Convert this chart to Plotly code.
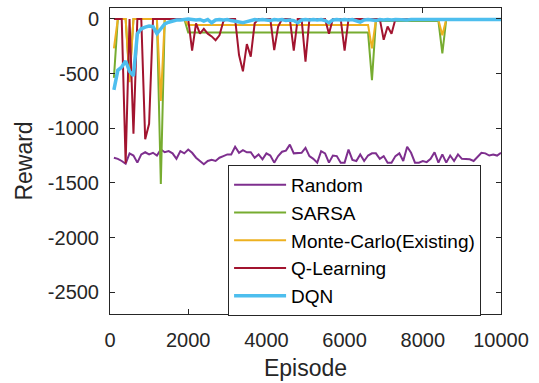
import plotly.graph_objects as go

episodes = list(range(100, 10001, 100))

random_r = [
    -1270, -1280, -1300, -1325, -1230, -1250, -1315, -1240, -1220, -1240,
    -1225, -1250, -1195, -1220, -1210, -1230, -1280, -1210, -1230, -1195,
    -1225, -1270, -1300, -1330, -1300, -1290, -1300, -1270, -1255, -1240,
    -1240, -1170, -1225, -1200, -1220, -1220, -1270, -1240, -1285, -1230,
    -1250, -1315, -1255, -1215, -1205, -1150, -1230, -1225, -1225, -1180,
    -1255, -1280, -1315, -1210, -1230, -1315, -1250, -1255, -1315, -1315,
    -1195, -1290, -1300, -1240, -1300, -1250, -1230, -1230, -1280, -1255,
    -1315, -1315, -1255, -1230, -1300, -1170, -1225, -1315, -1315, -1300,
    -1310, -1280, -1220, -1315, -1240, -1315, -1250, -1300, -1240, -1280,
    -1280, -1285, -1300, -1260, -1225, -1230, -1250, -1240, -1250, -1225,
]

sarsa_r = [
    -540, 0, 0, 0, -540, 0, 0, 0, 0, 0,
    0, 0, -1510, 0, 0, 0, 0, 0, 0, -125,
    -125, -125, -125, -125, -125, -125, -125, -125, -125, -125,
    -125, -125, -125, -125, -125, -125, -125, -125, -125, -125,
    -125, -125, -125, -125, -125, -125, -125, -125, -125, -125,
    -125, -125, -125, -125, -125, -125, -125, -125, -125, -125,
    -125, -125, -125, -125, -125, -125, -560, -20, -20, -20,
    -20, -20, -20, -20, -20, -20, -20, -20, -20, -20,
    -20, -20, -20, -20, -315, -5, -5, -5, -5, -5,
    -5, -5, -5, -5, -5, -5, -5, -5, -5, -5,
]

mc_r = [
    -270, 0, 0, 0, -580, 0, 0, 0, 0, 0,
    0, 0, -750, 0, 0, 0, 0, 0, 0, -55,
    -55, -55, -55, -55, -55, -55, -55, -55, -55, -55,
    -55, -55, -55, -55, -55, -55, -55, -55, -55, -55,
    -55, -55, -55, -55, -55, -55, -55, -55, -55, -55,
    -55, -55, -55, -55, -55, -55, -55, -55, -55, -55,
    -55, -55, -55, -55, -55, -55, -270, -10, -10, -10,
    -10, -10, -10, -10, -10, -10, -10, -10, -10, -10,
    -10, -10, -10, -10, -150, 0, 0, 0, 0, 0,
    0, 0, 0, 0, 0, 0, 0, 0, 0, 0,
]

qlearning_r = [
    0, 0, 0, -1320, 0, -1050, 0, 0, -1100, -960,
    0, 0, 0, 0, 0, 0, 0, 0, 0, 0,
    -290, -40, -135, -90, -135, -160, -195, -150, -20, 0,
    0, 0, -330, -480, -230, -345, -40, 0, 0, 0,
    0, -285, -70, 0, 0, 0, -290, 0, 0, -390,
    0, 0, 0, 0, 0, -135, 0, 0, 0, -290,
    0, 0, 0, 0, 0, 0, 0, 0, 0, -190,
    -70, -135, 0, 0, 0, 0, 0, 0, 0, 0,
    0, 0, 0, 0, 0, 0, 0, 0, 0, 0,
    0, 0, 0, 0, 0, 0, 0, 0, 0, 0,
]

dqn_r = [
    -650, -470, -440, -385, -480, -520, -135, -90, -75, -65,
    -70, -135, -90, -45, -30, -20, -10, -10, -5, 0,
    -5, -10, -5, -20, -5, -35, -10, -5, -10, -5,
    -15, -20, -30, -35, -25, -15, -5, -10, -5, -10,
    -15, -5, -10, -5, -15, -10, -15, -35, -10, -5,
    -10, -5, -10, -5, -15, -35, -10, -5, -10, -5,
    -10, -5, -15, -30, -10, -5, -10, -15, -5, -10,
    -5, -10, -5, -8, -5, -10, -5, -5, -8, -5,
    -5, -8, -5, -5, -5, -8, -5, -5, -5, -5,
    -5, -5, -5, -5, -5, -5, -5, -5, -5, -5,
]

x_tick_vals = [0, 2000, 4000, 6000, 8000, 10000]
x_tick_text = ["0", "2000", "4000", "6000", "8000", "10000"]
y_tick_vals = [0, -500, -1000, -1500, -2000, -2500]
y_tick_text = ["0", "-500", "-1000", "-1500", "-2000", "-2500"]

series = [
    ("Random", random_r, "#7E2F8E", 2),
    ("SARSA", sarsa_r, "#77AC30", 2),
    ("Monte-Carlo(Existing)", mc_r, "#EDB120", 2),
    ("Q-Learning", qlearning_r, "#A2142F", 2),
    ("DQN", dqn_r, "#4DBEEE", 3.5),
]

fig = go.Figure()
for name, vals, color, w in series:
    fig.add_trace(go.Scatter(x=episodes, y=vals, mode="lines", name=name,
                             line=dict(color=color, width=w)))

axis_color = "#262626"
font_family = "Liberation Sans, Arial, sans-serif"

fig.update_layout(
    width=539, height=383,
    margin=dict(l=110, r=38, t=7, b=66),
    paper_bgcolor="white", plot_bgcolor="white",
    font=dict(family=font_family, size=20, color=axis_color),
    showlegend=True,
    legend=dict(x=0.302, y=0.487, xanchor="left", yanchor="top",
                bgcolor="white", bordercolor=axis_color, borderwidth=1,
                itemwidth=52,
                font=dict(size=19, color="black"), tracegroupgap=0),
)
fig.update_xaxes(range=[0, 10000], tickmode="array", tickvals=x_tick_vals,
                 ticktext=x_tick_text, showline=True, mirror="ticks",
                 linecolor=axis_color, linewidth=1, ticks="inside", ticklen=5,
                 tickcolor=axis_color, showgrid=False, zeroline=False,
                 ticklabelstandoff=8,
                 title=dict(text="Episode", font=dict(size=23), standoff=9))
fig.update_yaxes(range=[-2700, 100], tickmode="array", tickvals=y_tick_vals,
                 ticktext=y_tick_text, showline=True, mirror="ticks",
                 linecolor=axis_color, linewidth=1, ticks="inside", ticklen=5,
                 tickcolor=axis_color, showgrid=False, zeroline=False,
                 ticklabelstandoff=6,
                 title=dict(text="Reward", font=dict(size=23), standoff=8))

fig.write_html("out.html", config={"displayModeBar": False},
               post_script="document.body.style.margin='0';")
